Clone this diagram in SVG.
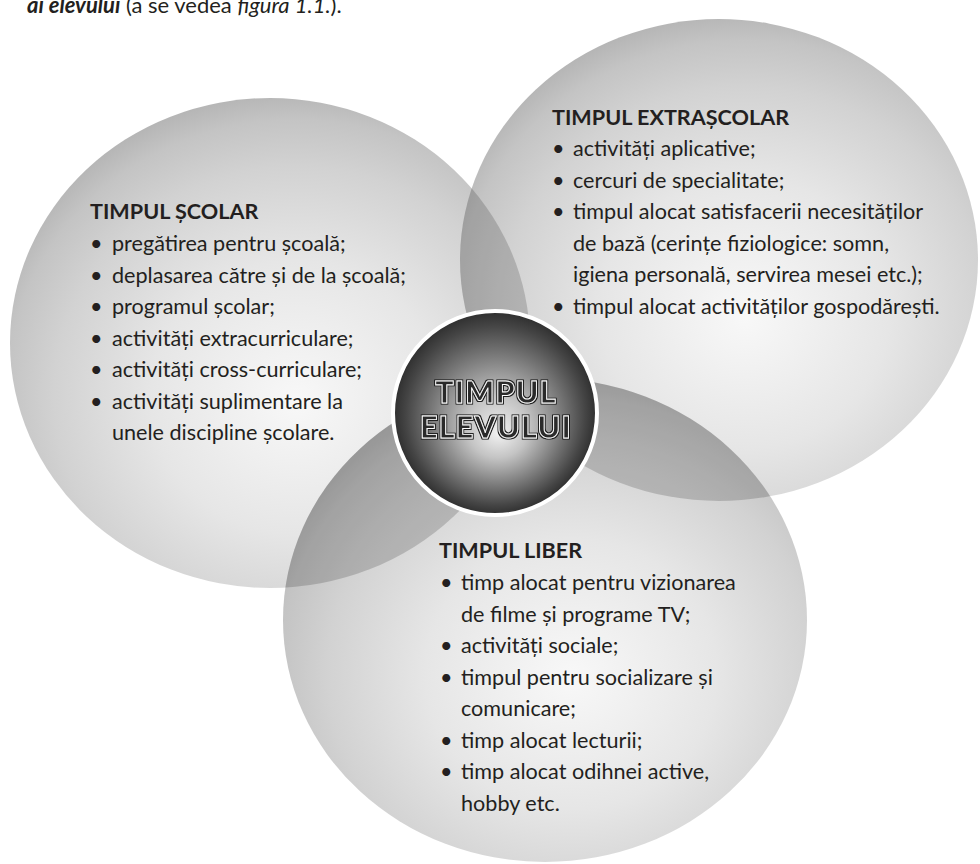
<svg xmlns="http://www.w3.org/2000/svg" width="980" height="864" viewBox="0 0 980 864">
<style>
  .t { font-family: Lato, 'Open Sans', 'Liberation Sans', sans-serif; font-size: 21.6px; fill: #231f20; }
  .h { font-family: Lato, 'Open Sans', 'Liberation Sans', sans-serif; font-size: 21.6px; font-weight: 700; fill: #231f20; }
  .c { font-family: Lato, 'Open Sans', 'Liberation Sans', sans-serif; font-size: 30.5px; font-weight: 900; fill: #2a2a2a; stroke: #ffffff; stroke-width: 0.9; letter-spacing: 1.2px; }
  .top { font-family: Lato, 'Open Sans', 'Liberation Sans', sans-serif; font-size: 22px; fill: #231f20; }
  .lens { fill: #000000; fill-opacity: 0.17; }
</style>
<defs>
  <radialGradient id="gBall" cx="0.55" cy="0.6" r="0.62" fx="0.55" fy="0.62">
    <stop offset="0" stop-color="#f8f8f8"/>
    <stop offset="0.45" stop-color="#e6e6e6"/>
    <stop offset="0.75" stop-color="#d2d2d2"/>
    <stop offset="0.9" stop-color="#c4c4c4"/>
    <stop offset="1" stop-color="#b3b3b3"/>
  </radialGradient>
  <radialGradient id="gCenter" cx="0.5" cy="0.5" r="0.5" fx="0.52" fy="0.6">
    <stop offset="0" stop-color="#f2f2f2"/>
    <stop offset="0.3" stop-color="#c4c4c4"/>
    <stop offset="0.65" stop-color="#777777"/>
    <stop offset="0.88" stop-color="#454545"/>
    <stop offset="1" stop-color="#2e2e2e"/>
  </radialGradient>
  <clipPath id="cpLeft"><ellipse cx="270" cy="343" rx="260" ry="245"/></clipPath>
  <clipPath id="cpRight"><ellipse cx="719" cy="260" rx="259" ry="241"/></clipPath>
  <filter id="outline" x="-10%" y="-20%" width="120%" height="140%">
    <feMorphology in="SourceAlpha" operator="dilate" radius="1.1" result="d"/>
    <feFlood flood-color="#1a1a1a"/>
    <feComposite in2="d" operator="in" result="o"/>
    <feMerge><feMergeNode in="o"/><feMergeNode in="SourceGraphic"/></feMerge>
  </filter>
</defs>

<rect width="980" height="864" fill="#ffffff"/>

<text class="top" x="27" y="13"><tspan font-weight="700" font-style="italic">ai elevului</tspan> (a se vedea <tspan font-style="italic">figura 1.1.</tspan>).</text>

<g id="node-scolar">
  <ellipse cx="270" cy="343" rx="260" ry="245" fill="url(#gBall)"/>
  <text class="h" x="90" y="219">TIMPUL ȘCOLAR</text>
  <text class="t" y="251"><tspan x="90">•</tspan><tspan x="112">pregătirea pentru școală;</tspan></text>
  <text class="t" y="282.5"><tspan x="90">•</tspan><tspan x="112">deplasarea către și de la școală;</tspan></text>
  <text class="t" y="314"><tspan x="90">•</tspan><tspan x="112">programul școlar;</tspan></text>
  <text class="t" y="345.5"><tspan x="90">•</tspan><tspan x="112">activități extracurriculare;</tspan></text>
  <text class="t" y="377"><tspan x="90">•</tspan><tspan x="112">activități cross-curriculare;</tspan></text>
  <text class="t" y="408.5"><tspan x="90">•</tspan><tspan x="112">activități suplimentare la</tspan></text>
  <text class="t" x="112" y="440">unele discipline școlare.</text>
</g>

<g id="node-extrascolar">
  <ellipse cx="719" cy="260" rx="259" ry="241" fill="url(#gBall)"/>
  <text class="h" x="552" y="125">TIMPUL EXTRAȘCOLAR</text>
  <text class="t" y="156"><tspan x="552">•</tspan><tspan x="573">activități aplicative;</tspan></text>
  <text class="t" y="187.5"><tspan x="552">•</tspan><tspan x="573">cercuri de specialitate;</tspan></text>
  <text class="t" y="219"><tspan x="552">•</tspan><tspan x="573">timpul alocat satisfacerii necesităților</tspan></text>
  <text class="t" x="573" y="250.5">de bază (cerințe fiziologice: somn,</text>
  <text class="t" x="573" y="282">igiena personală, servirea mesei etc.);</text>
  <text class="t" y="313.5"><tspan x="552">•</tspan><tspan x="573">timpul alocat activităților gospodărești.</tspan></text>
</g>

<g id="node-liber">
  <ellipse cx="545" cy="620" rx="262" ry="242" fill="url(#gBall)"/>
  <text class="h" x="439" y="558">TIMPUL LIBER</text>
  <text class="t" y="590"><tspan x="440">•</tspan><tspan x="461">timp alocat pentru vizionarea</tspan></text>
  <text class="t" x="461" y="621.5">de filme și programe TV;</text>
  <text class="t" y="653"><tspan x="440">•</tspan><tspan x="461">activități sociale;</tspan></text>
  <text class="t" y="684.5"><tspan x="440">•</tspan><tspan x="461">timpul pentru socializare și</tspan></text>
  <text class="t" x="461" y="716">comunicare;</text>
  <text class="t" y="747.5"><tspan x="440">•</tspan><tspan x="461">timp alocat lecturii;</tspan></text>
  <text class="t" y="779"><tspan x="440">•</tspan><tspan x="461">timp alocat odihnei active,</tspan></text>
  <text class="t" x="461" y="810.5">hobby etc.</text>
</g>

<g id="overlaps">
  <ellipse class="lens" cx="719" cy="260" rx="259" ry="241" clip-path="url(#cpLeft)"/>
  <ellipse class="lens" cx="545" cy="620" rx="262" ry="242" clip-path="url(#cpLeft)"/>
  <ellipse class="lens" cx="545" cy="620" rx="262" ry="242" clip-path="url(#cpRight)"/>
</g>

<g id="connectors"></g>

<g id="node-center">
  <circle cx="495" cy="413" r="102" fill="url(#gCenter)" stroke="#ffffff" stroke-width="4"/>
  <text class="c" x="496" y="403" text-anchor="middle" filter="url(#outline)"><tspan x="496" y="403">TIMPUL</tspan><tspan x="496" y="438">ELEVULUI</tspan></text>
</g>
</svg>
